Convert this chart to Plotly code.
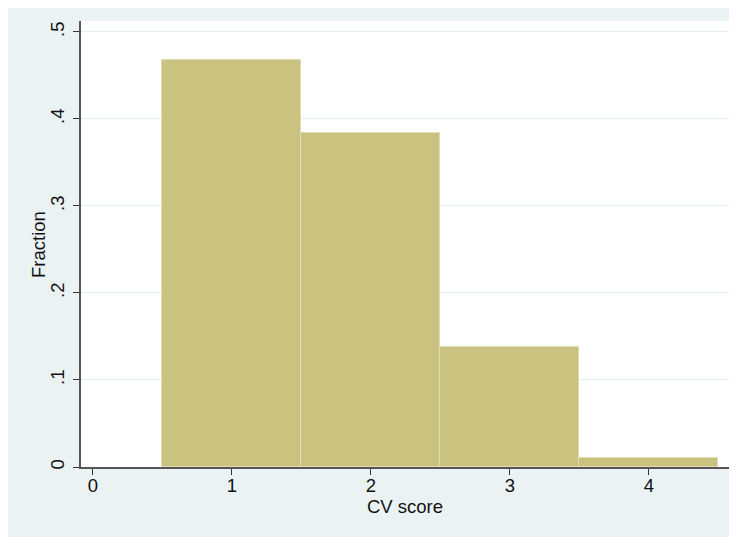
import plotly.graph_objects as go

cv_score = [1, 2, 3, 4]
fraction = [0.468, 0.384, 0.138, 0.0105]
x_ticks = [0, 1, 2, 3, 4]
y_ticks = [0, 0.1, 0.2, 0.3, 0.4, 0.5]
y_tick_labels = ["0", ".1", ".2", ".3", ".4", ".5"]

FONT = "Liberation Sans, Arial, Helvetica, sans-serif"
OUTER = "#EAF2F3"
FS = 18.5

fig = go.Figure()
fig.add_trace(go.Bar(
    x=cv_score, y=fraction, width=1,
    marker=dict(color="#CAC27F", line=dict(color="#E2DCB3", width=1)),
    showlegend=False,
))

fig.update_layout(
    width=737, height=537,
    margin=dict(l=73, r=16, t=13, b=78),
    paper_bgcolor=OUTER,
    plot_bgcolor="white",
    font=dict(family=FONT, size=FS, color="#111111"),
    bargap=0,
    annotations=[dict(
        text="Fraction", xref="paper", yref="paper",
        x=-0.0664, y=0.5, xanchor="center", yanchor="middle",
        textangle=-90, showarrow=False, font=dict(size=FS),
    )],
)

fig.update_xaxes(
    range=[-0.086, 4.576],
    tickvals=x_ticks,
    ticks="outside", ticklen=6, tickcolor="#333333", tickwidth=1,
    ticklabelstandoff=-5,
    showgrid=False, zeroline=False,
    showline=True, linecolor="#555555", linewidth=1.5,
    title=dict(text="CV score", standoff=2, font=dict(size=FS)),
    tickfont=dict(size=FS),
)
fig.update_yaxes(
    range=[0, 0.5126],
    tickvals=y_ticks, ticktext=y_tick_labels,
    tickangle=-90,
    ticks="outside", ticklen=6, tickcolor="#333333", tickwidth=1,
    ticklabelstandoff=2,
    showgrid=True, gridcolor="#E6EEF0", gridwidth=1,
    zeroline=False,
    showline=True, linecolor="#555555", linewidth=1.5,
    tickfont=dict(size=FS),
)

fig.write_html("out.html")
